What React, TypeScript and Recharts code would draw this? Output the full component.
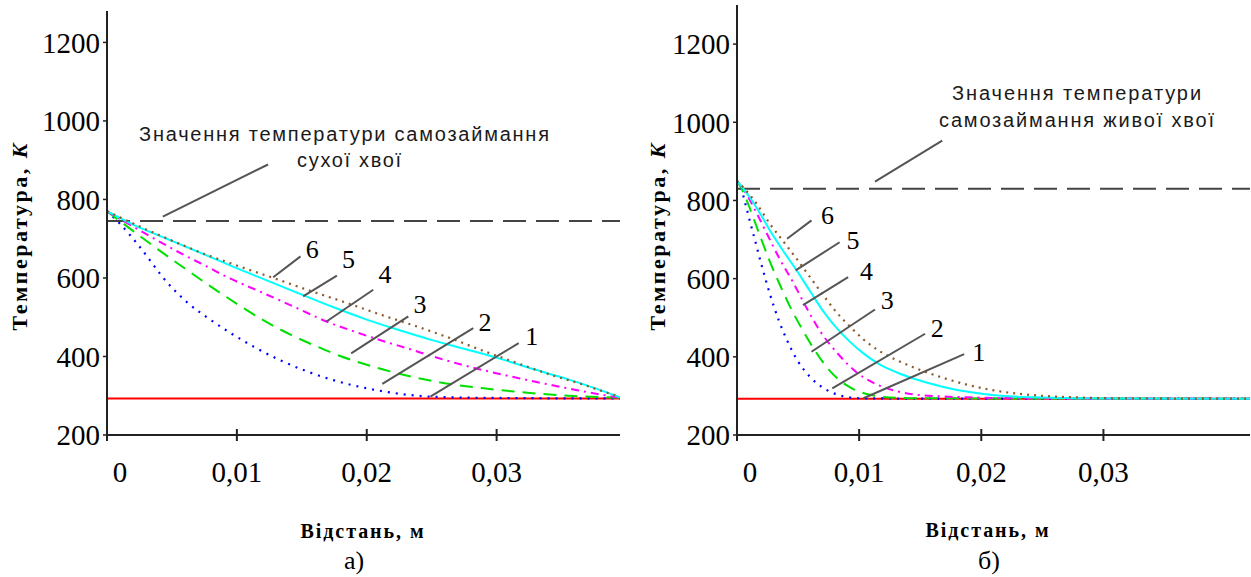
import React from 'react';
import { LineChart, Line, XAxis, YAxis, ReferenceLine, ReferenceDot } from 'recharts';

const SERIF = '"Liberation Serif", "Times New Roman", serif';
const SANS = '"Liberation Sans", Arial, sans-serif';

// ---------- data (x in metres, T in kelvin) ----------
const xTicks = [0, 0.01, 0.02, 0.03];
const xTickLabels = ['0', '0,01', '0,02', '0,03'];
const yTicks = [200, 400, 600, 800, 1000, 1200];

const thresholdA = 745;
const thresholdB = 830;

// chart a)
const a1 = [[0, 293], [0.0395, 293]];
const a2 = [[0, 770], [0.001, 738], [0.0025, 680], [0.0046, 590], [0.0061, 540], [0.0079, 495], [0.0095, 460], [0.0113, 425], [0.0133, 391], [0.0154, 362], [0.0174, 340], [0.02, 319], [0.0213, 311], [0.0239, 300], [0.0264, 296], [0.0316, 294], [0.0395, 293]];
const a3 = [[0, 770], [0.002, 720], [0.004, 671], [0.006, 624], [0.008, 578], [0.01, 534], [0.012, 493], [0.0143, 453], [0.0162, 425], [0.0179, 402], [0.02, 379], [0.0218, 362], [0.0244, 342], [0.0264, 330], [0.029, 319], [0.0316, 310], [0.0341, 303], [0.0367, 298], [0.0395, 295]];
const a4 = [[0, 770], [0.002, 731], [0.0038, 697], [0.0059, 659], [0.0077, 629], [0.0092, 603], [0.0113, 572], [0.0131, 546], [0.0149, 519], [0.0169, 489], [0.019, 464], [0.021, 442], [0.0231, 421], [0.0251, 400], [0.0272, 380], [0.0295, 361], [0.0318, 344], [0.0341, 328], [0.0362, 314], [0.0382, 302], [0.0395, 295]];
const a5 = [[0, 770], [0.002, 736], [0.0046, 700], [0.0072, 664], [0.0097, 629], [0.0123, 594], [0.0149, 559], [0.0174, 526], [0.02, 494], [0.0226, 466], [0.0251, 441], [0.0277, 418], [0.0303, 394], [0.0328, 368], [0.0354, 343], [0.0375, 320], [0.0395, 296]];
const a6 = [[0, 770], [0.0028, 727], [0.0048, 698], [0.0072, 665], [0.0097, 635], [0.0128, 600], [0.0154, 570], [0.0185, 536], [0.0213, 504], [0.0239, 476], [0.0264, 447], [0.029, 414], [0.0316, 383], [0.0341, 354], [0.0367, 328], [0.0382, 311], [0.0395, 297]];

// chart б)
const b1 = [[0, 293], [0.042, 293]];
const b2 = [[0, 850], [0.0003, 835], [0.0007, 790], [0.0011, 742], [0.0015, 695], [0.002, 636], [0.0027, 560], [0.0034, 495], [0.0041, 442], [0.0049, 393], [0.006, 348], [0.0073, 316], [0.0087, 299], [0.0101, 294], [0.016, 293], [0.042, 293]];
const b3 = [[0, 850], [0.0005, 822], [0.001, 784], [0.0015, 742], [0.002, 700], [0.0027, 643], [0.0035, 585], [0.0043, 531], [0.0052, 478], [0.0063, 420], [0.0076, 364], [0.0093, 321], [0.0109, 303], [0.0125, 296], [0.0147, 294], [0.042, 293]];
const b4 = [[0, 850], [0.0008, 815], [0.0016, 768], [0.0024, 718], [0.0035, 650], [0.0046, 590], [0.0057, 525], [0.0068, 466], [0.0082, 410], [0.0098, 360], [0.0114, 330], [0.0131, 312], [0.0147, 303], [0.0166, 299], [0.0193, 296], [0.0243, 294], [0.042, 293]];
const b5 = [[0, 850], [0.001, 810], [0.0019, 766], [0.0027, 723], [0.0038, 670], [0.0049, 620], [0.006, 567], [0.0071, 515], [0.0082, 472], [0.0093, 437], [0.0103, 410], [0.0117, 380], [0.0131, 360], [0.0147, 342], [0.0169, 323], [0.0188, 311], [0.0207, 303], [0.0223, 299], [0.025, 296], [0.03, 293.5], [0.042, 293]];
const b6 = [[0, 850], [0.0005, 834], [0.0016, 792], [0.0027, 740], [0.0038, 695], [0.0049, 650], [0.006, 603], [0.0071, 556], [0.0082, 512], [0.0093, 476], [0.0103, 446], [0.0117, 414], [0.0131, 391], [0.0147, 370], [0.0169, 346], [0.0188, 329], [0.0207, 316], [0.0229, 306], [0.0251, 300], [0.0278, 296], [0.0324, 293.5], [0.042, 293]];

// annotations (data coordinates)
const leadersA = [
  { label: '1', from: [0.0249, 298], to: [0.0317, 434], at: [0.0327, 451] },
  { label: '2', from: [0.0212, 330], to: [0.0282, 472], at: [0.0291, 486] },
  { label: '3', from: [0.0188, 408], to: [0.0232, 502], at: [0.0241, 532] },
  { label: '4', from: [0.0169, 489], to: [0.0205, 570], at: [0.0214, 608] },
  { label: '5', from: [0.0151, 553], to: [0.0177, 606], at: [0.0186, 646] },
  { label: '6', from: [0.0128, 602], to: [0.0149, 655], at: [0.0158, 672] },
];
const leadersB = [
  { label: '1', from: [0.01035, 294], to: [0.0186, 407], at: [0.0198, 412] },
  { label: '2', from: [0.0078, 319], to: [0.0154, 459], at: [0.0164, 472] },
  { label: '3', from: [0.0061, 413], to: [0.0113, 521], at: [0.0123, 544] },
  { label: '4', from: [0.0054, 532], to: [0.0091, 604], at: [0.0106, 617] },
  { label: '5', from: [0.0048, 621], to: [0.0084, 693], at: [0.0095, 697] },
  { label: '6', from: [0.0041, 702], to: [0.0061, 749], at: [0.0074, 761] },
];
const noteLeaderA = { from: [0.0043, 756], to: [0.0124, 889] };
const noteLeaderB = { from: [0.0113, 848], to: [0.0168, 953] };
const notesA = [
  { text: 'Значення температури самозаймання', at: [0.01825, 967], len: 410 },
  { text: 'сухої хвої', at: [0.01864, 900], len: 104 },
];
const notesB = [
  { text: 'Значення температури', at: [0.0278, 1075], len: 249 },
  { text: 'самозаймання живої хвої', at: [0.0278, 1007], len: 275 },
];

const toPts = (arr: number[][]) => arr.map(([x, t]) => ({ x, t }));

const styles = [
  { color: '#ff0000', dash: undefined, w: 2 },
  { color: '#0000ff', dash: '2 6', w: 2.2 },
  { color: '#00e000', dash: '13 8', w: 2 },
  { color: '#ff00ff', dash: '8 5 2 5', w: 2 },
  { color: '#00ffff', dash: undefined, w: 2 },
  { color: '#8c5a2b', dash: '2 5', w: 2.2 },
];

const XTick = (props: any) => {
  const { x, y, payload } = props;
  const i = xTicks.indexOf(payload.value);
  const dx = payload.value === 0 ? 13 : 0;
  return (
    <g>
      <line x1={x} x2={x} y1={y - 6} y2={y + 6} stroke="#222" strokeWidth={2} />
      <text x={x + dx} y={y + 37} textAnchor="middle" dominantBaseline="central" fontFamily={SERIF} fontSize={29} fill="#000">
        {i >= 0 ? xTickLabels[i] : ''}
      </text>
    </g>
  );
};

const numShape = (label: string) => (p: any) => (
  <text x={p.cx} y={p.cy} textAnchor="middle" dominantBaseline="central" fontFamily={SERIF} fontSize={26} fill="#000">{label}</text>
);
const noteShape = (text: string, len: number) => (p: any) => (
  <text x={p.cx} y={p.cy} textAnchor="middle" dominantBaseline="central" fontFamily={SANS} fontSize={20} fill="#1a1a1a" textLength={len} lengthAdjust="spacing">{text}</text>
);

function Panel(props: any) {
  const { series, xMax, yMax, threshold, leaders, noteLeader, notes, margin, width } = props;
  return (
    <LineChart width={width} height={577} margin={margin}>
      <XAxis type="number" dataKey="x" domain={[0, xMax]} ticks={xTicks} allowDataOverflow
        axisLine={{ stroke: '#222', strokeWidth: 2 }} tickLine={false} tickSize={0} tickMargin={0} height={60} tick={<XTick />} interval={0} />
      <YAxis type="number" dataKey="t" domain={[200, yMax]} ticks={yTicks} allowDataOverflow width={60}
        axisLine={{ stroke: '#222', strokeWidth: 2 }} tickLine={{ stroke: '#222', strokeWidth: 1.5 }} tickSize={4} tickMargin={3}
        tick={{ fill: '#000', fontSize: 29, fontFamily: SERIF }} interval={0} />
      <ReferenceLine y={threshold} stroke="#444" strokeWidth={2} strokeDasharray="23 10" />
      {series.map((s: number[][], i: number) => (
        <Line key={i} data={toPts(s)} dataKey="t" type="monotone" stroke={styles[i].color} strokeWidth={styles[i].w}
          strokeDasharray={styles[i].dash} dot={false} isAnimationActive={false} />
      ))}
      <ReferenceLine segment={[{ x: noteLeader.from[0], y: noteLeader.from[1] }, { x: noteLeader.to[0], y: noteLeader.to[1] }]}
        stroke="#555" strokeWidth={2} ifOverflow="visible" />
      {leaders.map((l: any) => (
        <ReferenceLine key={'l' + l.label} segment={[{ x: l.from[0], y: l.from[1] }, { x: l.to[0], y: l.to[1] }]}
          stroke="#555" strokeWidth={2} ifOverflow="visible" />
      ))}
      {leaders.map((l: any) => (
        <ReferenceDot key={'n' + l.label} x={l.at[0]} y={l.at[1]} r={0} ifOverflow="visible" shape={numShape(l.label)} />
      ))}
      {notes.map((n: any, i: number) => (
        <ReferenceDot key={'t' + i} x={n.at[0]} y={n.at[1]} r={0} ifOverflow="visible" shape={noteShape(n.text, n.len)} />
      ))}
    </LineChart>
  );
}

export default function App() {
  return (
    <div style={{ position: 'absolute', left: 0, top: 0, width: 1251, height: 577, background: '#fff', overflow: 'hidden' }}>
      <div style={{ position: 'absolute', left: 0, top: 0 }}>
        <Panel width={625} margin={{ top: 11, right: 5, bottom: 82, left: 47 }} series={[a1, a2, a3, a4, a5, a6]}
          xMax={0.0395} yMax={1280} threshold={thresholdA} leaders={leadersA} noteLeader={noteLeaderA} notes={notesA} />
      </div>
      <div style={{ position: 'absolute', left: 620, top: 0 }}>
        <Panel width={631} margin={{ top: 5, right: 1, bottom: 82, left: 57 }} series={[b1, b2, b3, b4, b5, b6]}
          xMax={0.042} yMax={1300} threshold={thresholdB} leaders={leadersB} noteLeader={noteLeaderB} notes={notesB} />
      </div>
      <svg width={1251} height={577} style={{ position: 'absolute', left: 0, top: 0, pointerEvents: 'none' }}>
        <g fontFamily={SERIF} fill="#000">
          <text transform="translate(19,237) rotate(-90)" textAnchor="middle" dominantBaseline="central" fontSize={22} fontWeight="bold" textLength={187} lengthAdjust="spacing">
            Температура, <tspan fontStyle="italic">K</tspan>
          </text>
          <text transform="translate(657,237) rotate(-90)" textAnchor="middle" dominantBaseline="central" fontSize={22} fontWeight="bold" textLength={187} lengthAdjust="spacing">
            Температура, <tspan fontStyle="italic">K</tspan>
          </text>
          <text x={362} y={531} textAnchor="middle" dominantBaseline="central" fontSize={20} fontWeight="bold" textLength={123} lengthAdjust="spacing">Відстань,  м</text>
          <text x={987} y={530} textAnchor="middle" dominantBaseline="central" fontSize={20} fontWeight="bold" textLength={123} lengthAdjust="spacing">Відстань, м</text>
          <text x={354} y={560} textAnchor="middle" dominantBaseline="central" fontSize={26}>а)</text>
          <text x={989} y={560} textAnchor="middle" dominantBaseline="central" fontSize={26}>б)</text>
        </g>
      </svg>
    </div>
  );
}
